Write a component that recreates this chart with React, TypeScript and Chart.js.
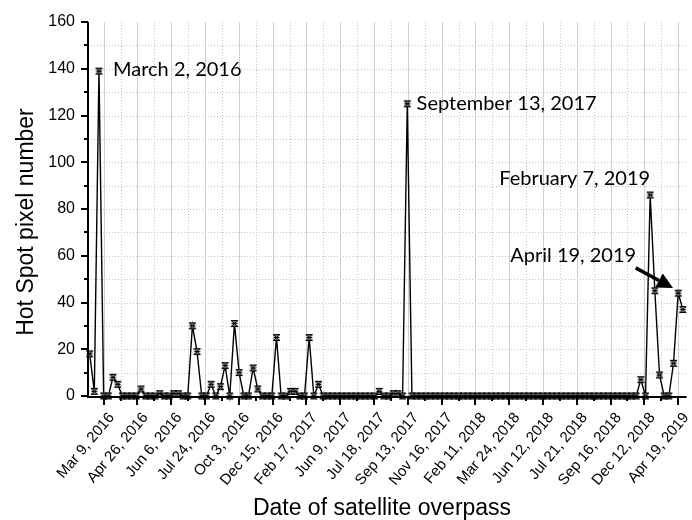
import React, { useEffect, useRef } from "react";
import { Chart, registerables } from "chart.js";

Chart.register(...registerables);

// ---- data ----
const hotSpotCounts: number[] = [
  18, 2, 139, 0, 0, 8, 5, 0, 0, 0,
  0, 3, 0, 0, 0, 1, 0, 0, 1, 1,
  0, 0, 30, 19, 0, 0, 5, 0, 4, 13,
  0, 31, 10, 0, 0, 12, 3, 0, 0, 0,
  25, 0, 0, 2, 2, 0, 0, 25, 0, 5,
  0, 0, 0, 0, 0, 0, 0, 0, 0, 0,
  0, 0, 2, 0, 0, 1, 1, 0, 125, 0,
  0, 0, 0, 0, 0, 0, 0, 0, 0, 0,
  0, 0, 0, 0, 0, 0, 0, 0, 0, 0,
  0, 0, 0, 0, 0, 0, 0, 0, 0, 0,
  0, 0, 0, 0, 0, 0, 0, 0, 0, 0,
  0, 0, 0, 0, 0, 0, 0, 0, 7, 0,
  86, 45, 9, 0, 0, 14, 44, 37,
];

const dateTickLabels: string[] = [
  "Mar 9, 2016", "Apr 26, 2016", "Jun 6, 2016", "Jul 24, 2016", "Oct 3, 2016",
  "Dec 15, 2016", "Feb 17, 2017", "Jun 9, 2017", "Jul 18, 2017", "Sep 13, 2017",
  "Nov 16, 2017", "Feb 11, 2018", "Mar 24, 2018", "Jun 12, 2018", "Jul 21, 2018",
  "Sep 16, 2018", "Dec 12, 2018", "Apr 19, 2019",
];

const yTickValues: number[] = [0, 20, 40, 60, 80, 100, 120, 140, 160];

const annotationTexts: string[] = [
  "March 2, 2016",
  "September 13, 2017",
  "February 7, 2019",
  "April 19, 2019",
];

const xAxisTitle = "Date of satellite overpass";
const yAxisTitle = "Hot Spot pixel number";

// ---- layout (not data) ----
const W = 692;
const H = 520;
const FIRST_TICK_INDEX = 3;
const LAST_TICK_INDEX = 126;
const X_MIN = -0.35;
const X_MAX = 127.8;
const Y_MIN = 0;
const Y_MAX = 160;
const Y_MINOR = 10;
const X_LABEL_ANGLE = 50;

const annotationAnchors = [
  { x: 5.0, y: 139.5, align: "left" as CanvasTextAlign },
  { x: 70.0, y: 125, align: "left" as CanvasTextAlign },
  { x: 120.0, y: 93, align: "right" as CanvasTextAlign },
  { x: 117.0, y: 60, align: "right" as CanvasTextAlign },
];
const arrowFrom = { x: 116.9, y: 54.8 };
const arrowTo = { x: 124.9, y: 46.2 };

function makeMarker(): HTMLCanvasElement {
  const c = document.createElement("canvas");
  c.width = 9;
  c.height = 9;
  const g = c.getContext("2d")!;
  g.fillStyle = "#6a6a6a";
  g.strokeStyle = "#000";
  g.lineWidth = 1;
  g.beginPath();
  g.moveTo(1, 1.5);
  g.lineTo(8, 1.5);
  g.lineTo(1, 7.5);
  g.lineTo(8, 7.5);
  g.closePath();
  g.fill();
  g.stroke();
  g.beginPath();
  g.moveTo(1.5, 4.5);
  g.lineTo(7.5, 4.5);
  g.stroke();
  return c;
}

const customPlugin = {
  id: "originStyle",
  beforeDatasetsDraw(chart: any) {
    const { ctx, chartArea: a, scales } = chart;
    const x = scales.x;
    const y = scales.y;
    ctx.save();
    ctx.lineWidth = 1;
    ctx.strokeStyle = "#c4c4c4";
    ctx.setLineDash([1, 2]);
    for (let v = Y_MIN + Y_MINOR; v < Y_MAX; v += Y_MINOR) {
      const py = Math.round(y.getPixelForValue(v)) + 0.5;
      ctx.beginPath();
      ctx.moveTo(a.left, py);
      ctx.lineTo(a.right, py);
      ctx.stroke();
    }
    const tv: number[] = x.ticks.map((t: any) => t.value);
    for (let j = 0; j < tv.length - 1; j++) {
      const px = Math.round(x.getPixelForValue((tv[j] + tv[j + 1]) / 2)) + 0.5;
      ctx.beginPath();
      ctx.moveTo(px, a.top);
      ctx.lineTo(px, a.bottom);
      ctx.stroke();
    }
    ctx.setLineDash([]);
    ctx.strokeStyle = "#cfcfcf";
    for (const v of tv) {
      const px = Math.round(x.getPixelForValue(v)) + 0.5;
      ctx.beginPath();
      ctx.moveTo(px, a.top);
      ctx.lineTo(px, a.bottom);
      ctx.stroke();
    }
    ctx.restore();
  },
  afterDatasetsDraw(chart: any) {
    const { ctx, chartArea: a, scales } = chart;
    const x = scales.x;
    const y = scales.y;
    ctx.save();
    ctx.strokeStyle = "#000";
    ctx.lineWidth = 2;
    ctx.setLineDash([]);
    ctx.beginPath();
    ctx.moveTo(a.left, a.top);
    ctx.lineTo(a.left, a.bottom + 1);
    ctx.lineTo(a.right, a.bottom + 1);
    ctx.stroke();
    for (let v = Y_MIN; v <= Y_MAX; v += Y_MINOR) {
      const py = Math.round(y.getPixelForValue(v));
      const major = v % 20 === 0;
      ctx.beginPath();
      ctx.moveTo(a.left - (major ? 7 : 4), py);
      ctx.lineTo(a.left, py);
      ctx.stroke();
    }
    const tv: number[] = x.ticks.map((t: any) => t.value);
    for (let j = 0; j < tv.length; j++) {
      const px = Math.round(x.getPixelForValue(tv[j]));
      ctx.beginPath();
      ctx.moveTo(px, a.bottom);
      ctx.lineTo(px, a.bottom + 9);
      ctx.stroke();
      if (j < tv.length - 1) {
        const pm = Math.round(x.getPixelForValue((tv[j] + tv[j + 1]) / 2));
        ctx.beginPath();
        ctx.moveTo(pm, a.bottom);
        ctx.lineTo(pm, a.bottom + 5);
        ctx.stroke();
      }
    }
    ctx.fillStyle = "#000";
    ctx.font = "15px 'Liberation Sans', Arial, sans-serif";
    ctx.textAlign = "right";
    ctx.textBaseline = "middle";
    for (let j = 0; j < tv.length; j++) {
      const px = x.getPixelForValue(tv[j]);
      ctx.save();
      ctx.translate(px + 8, a.bottom + 19);
      ctx.rotate((-X_LABEL_ANGLE * Math.PI) / 180);
      ctx.fillText(dateTickLabels[j], 0, 0);
      ctx.restore();
    }
    ctx.font = "23px 'Liberation Sans', Arial, sans-serif";
    ctx.textAlign = "center";
    ctx.textBaseline = "alphabetic";
    ctx.fillText(xAxisTitle, 382, 515);
    ctx.save();
    ctx.translate(33, 222);
    ctx.rotate(-Math.PI / 2);
    ctx.fillText(yAxisTitle, 0, 0);
    ctx.restore();
    ctx.font = "20px Lato, 'Noto Sans', sans-serif";
    ctx.textBaseline = "middle";
    annotationTexts.forEach((t, k) => {
      const an = annotationAnchors[k];
      ctx.textAlign = an.align;
      ctx.fillText(t, x.getPixelForValue(an.x), y.getPixelForValue(an.y));
    });
    const x0 = x.getPixelForValue(arrowFrom.x);
    const y0 = y.getPixelForValue(arrowFrom.y);
    const x1 = x.getPixelForValue(arrowTo.x);
    const y1 = y.getPixelForValue(arrowTo.y);
    const ang = Math.atan2(y1 - y0, x1 - x0);
    const headLen = 16;
    const headW = 8;
    const bx = x1 - headLen * Math.cos(ang);
    const by = y1 - headLen * Math.sin(ang);
    ctx.lineWidth = 3.5;
    ctx.beginPath();
    ctx.moveTo(x0, y0);
    ctx.lineTo(bx, by);
    ctx.stroke();
    ctx.beginPath();
    ctx.moveTo(x1, y1);
    ctx.lineTo(bx + headW * Math.sin(ang), by - headW * Math.cos(ang));
    ctx.lineTo(bx - headW * Math.sin(ang), by + headW * Math.cos(ang));
    ctx.closePath();
    ctx.fill();
    ctx.restore();
  },
};

export default function App() {
  const ref = useRef<HTMLCanvasElement | null>(null);
  useEffect(() => {
    document.body.style.margin = "0";
    const canvas = ref.current!;
    const marker = makeMarker();
    const chart = new Chart(canvas, {
      type: "line",
      data: {
        datasets: [
          {
            data: hotSpotCounts.map((v, i) => ({ x: i, y: v })),
            borderColor: "#000",
            borderWidth: 1.4,
            tension: 0,
            pointStyle: marker as any,
            pointRadius: 4,
            pointHoverRadius: 4,
            clip: false as any,
          },
        ],
      },
      options: {
        animation: false,
        responsive: false,
        events: [],
        layout: { padding: { top: 22, right: 1, left: 0, bottom: 0 } },
        plugins: { legend: { display: false }, tooltip: { enabled: false } },
        scales: {
          x: {
            type: "linear",
            min: X_MIN,
            max: X_MAX,
            grid: { display: false, drawTicks: false },
            border: { display: false },
            ticks: { display: false },
            afterBuildTicks: (s: any) => {
              const n = dateTickLabels.length;
              const step = (LAST_TICK_INDEX - FIRST_TICK_INDEX) / (n - 1);
              s.ticks = dateTickLabels.map((_, j) => ({ value: FIRST_TICK_INDEX + j * step }));
            },
            afterFit: (s: any) => {
              s.height = H - 396;
              s.paddingLeft = 0;
              s.paddingRight = 0;
            },
          },
          y: {
            min: Y_MIN,
            max: Y_MAX,
            grid: { display: false, drawTicks: false },
            border: { display: false },
            afterBuildTicks: (s: any) => {
              s.ticks = yTickValues.map((v) => ({ value: v }));
            },
            ticks: {
              padding: 13,
              color: "#000",
              font: { family: "'Liberation Sans', Arial, sans-serif", size: 16 },
            },
            afterFit: (s: any) => {
              s.width = 88;
              s.paddingTop = 0;
              s.paddingBottom = 0;
            },
          },
        },
      },
      plugins: [customPlugin],
    });
    return () => chart.destroy();
  }, []);
  return (
    <div style={{ width: W, height: H }}>
      <canvas ref={ref} width={W} height={H} />
    </div>
  );
}
